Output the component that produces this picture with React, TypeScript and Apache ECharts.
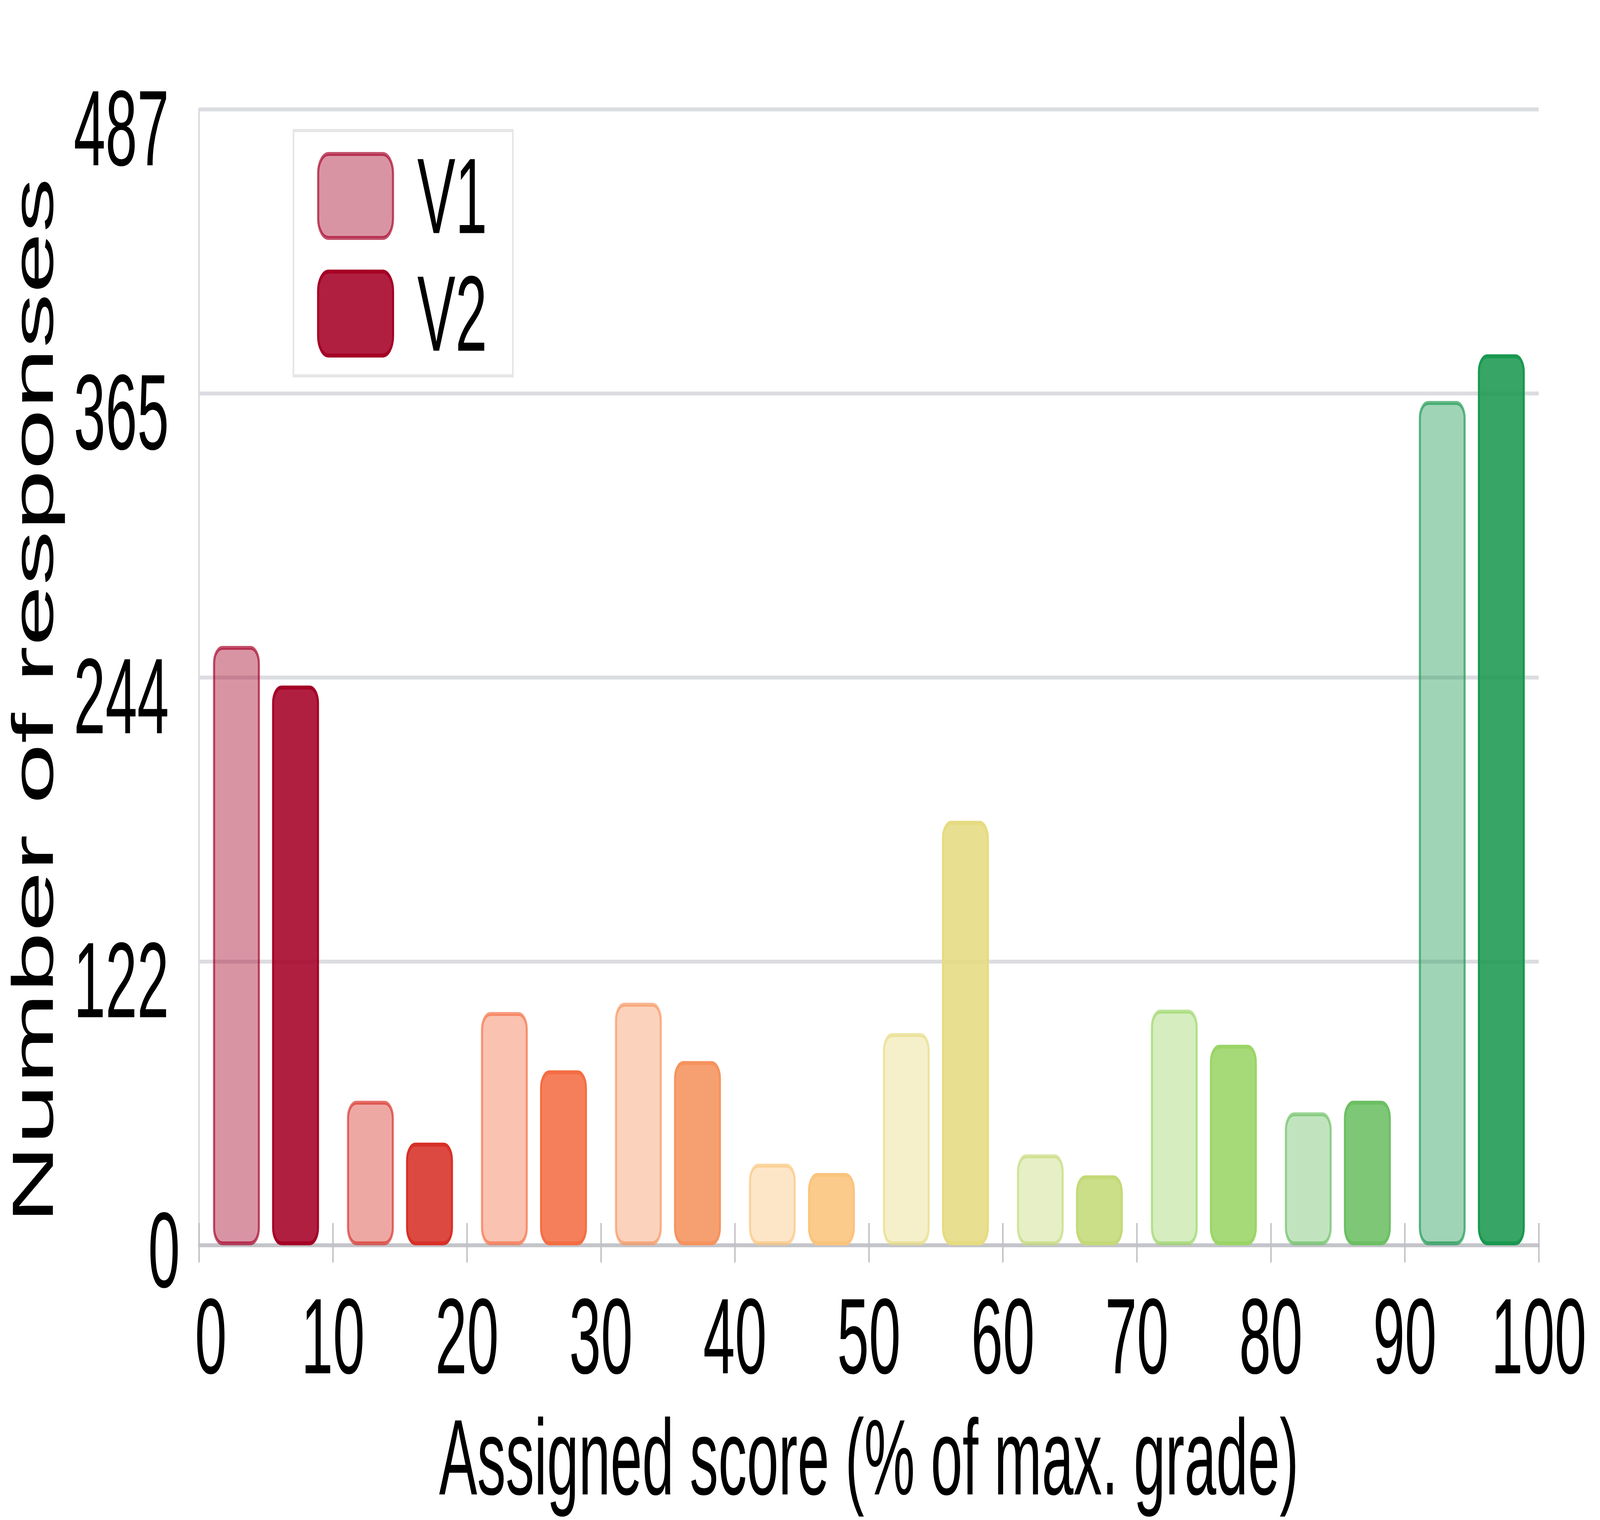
import React, { useEffect, useRef } from 'react'
import * as echarts from 'echarts'

// score bins (10 % wide) and the two response counts per bin
const bins = ['0-10', '10-20', '20-30', '30-40', '40-50', '50-60', '60-70', '70-80', '80-90', '90-100']
const v1Counts = [257, 62, 100, 104, 35, 91, 39, 101, 57, 362]
const v2Counts = [240, 44, 75, 79, 31, 182, 30, 86, 62, 382]
const binColors = ['#a50026', '#d73027', '#f46d43', '#f5935e', '#fac47c', '#e6db81', '#c4d978', '#9ad566', '#6cbf63', '#1a9850']
const seriesNames = ['V1', 'V2']
const yMax = 487

// design size of the figure
const W = 7710
const H = 3890
const FONT = '"Liberation Sans", Arial, sans-serif'
const FS = 275

const rgba = (hex: string, a: number) => {
  const n = parseInt(hex.slice(1), 16)
  return `rgba(${(n >> 16) & 255},${(n >> 8) & 255},${n & 255},${a})`
}

// fill / border alpha per version
const styleAlpha = [
  { fill: 0.42, border: 0.68 },
  { fill: 0.88, border: 1 }
]

const legendIcon =
  'path://M50,0 H311 A50,50 0 0 1 361,50 V165 A50,50 0 0 1 311,215 H50 A50,50 0 0 1 0,165 V50 A50,50 0 0 1 50,0 Z'

const App: React.FC = () => {
  const chartRef = useRef<HTMLDivElement>(null)
  // the window may be smaller than the design size: squeeze the whole figure into it
  const sx = Math.min(1, window.innerWidth / W)
  const sy = Math.min(1, window.innerHeight / H)

  useEffect(() => {
    if (!chartRef.current) return
    document.body.style.margin = '0'
    document.body.style.overflow = 'hidden'
    const chart = echarts.init(chartRef.current, undefined, { renderer: 'svg' })

    const makeSeries = (idx: number, counts: number[]) => {
      const a = styleAlpha[idx]
      return {
        name: seriesNames[idx],
        type: 'bar',
        xAxisIndex: 1,
        yAxisIndex: 0,
        barWidth: '35%',
        barGap: '26%',
        itemStyle: {
          color: rgba(binColors[0], a.fill),
          borderColor: rgba(binColors[0], a.border),
          borderWidth: 10,
          borderRadius: 40
        },
        data: counts.map((v, i) => ({
          value: v,
          itemStyle: {
            color: rgba(binColors[i], a.fill),
            borderColor: rgba(binColors[i], a.border)
          }
        }))
      }
    }

    const option = {
      animation: false,
      backgroundColor: '#fff',
      textStyle: { fontFamily: FONT },
      grid: { left: 959, right: 295, top: 280, bottom: 703, containLabel: false, outerBoundsMode: 'none' },
      legend: {
        orient: 'vertical',
        left: 1414,
        top: 334,
        icon: legendIcon,
        itemWidth: 361,
        itemHeight: 215,
        itemGap: 26,
        padding: [30, 124, 22, 114],
        borderColor: '#e5e6e8',
        borderWidth: 8,
        backgroundColor: '#fff',
        itemStyle: { borderWidth: 10 },
        textStyle: { fontSize: FS, color: '#000', fontFamily: FONT, padding: [0, 0, 0, 112] },
        data: seriesNames
      },
      xAxis: [
        {
          // value scale 0-100 carrying the labels and the downward ticks
          type: 'value',
          position: 'bottom',
          min: 0,
          max: 100,
          interval: 10,
          name: 'Assigned score (% of max. grade)',
          nameLocation: 'middle',
          nameGap: 405,
          nameTextStyle: { fontSize: FS, color: '#000', fontFamily: FONT },
          axisLine: { show: true, lineStyle: { color: '#c4c5ca', width: 10 } },
          axisTick: { show: true, length: 44, lineStyle: { color: '#c0c1c6', width: 7 } },
          axisLabel: {
            color: '#000',
            margin: 95,
            fontFamily: FONT,
            fontSize: FS,
            formatter: (v: number) => (v === 0 ? '{z|0}' : `{n|${v}}`),
            rich: {
              z: { fontSize: FS, fontFamily: FONT, color: '#000', padding: [0, 0, 0, 114] },
              n: { fontSize: FS, fontFamily: FONT, color: '#000' }
            }
          },
          splitLine: { show: false }
        },
        {
          // category bands for the bars; moved onto the bottom line for the upward tick halves
          type: 'category',
          data: bins,
          position: 'top',
          offset: -2907,
          boundaryGap: true,
          axisLine: { show: false },
          axisLabel: { show: false },
          axisTick: { show: true, length: 57, lineStyle: { color: '#c0c1c6', width: 7 } },
          splitLine: { show: false }
        }
      ],
      yAxis: {
        type: 'value',
        min: 0,
        max: yMax,
        interval: yMax / 4,
        name: 'Number of responses',
        nameLocation: 'middle',
        nameGap: 661,
        nameRotate: 90,
        nameTextStyle: { fontSize: 280, color: '#000', fontFamily: FONT, padding: [0, 120, 0, 0] },
        axisLine: { show: true, lineStyle: { color: '#dadbde', width: 8 } },
        axisTick: { show: false },
        axisLabel: {
          color: '#000',
          margin: 92,
          fontFamily: FONT,
          fontSize: FS,
          formatter: (v: number) => {
            const r = Math.round(v)
            return r === 0 ? '{z|0}' : `{n|${r}}`
          },
          rich: {
            z: { fontSize: FS, fontFamily: FONT, color: '#000', padding: [24, 0, 0, 0] },
            n: { fontSize: FS, fontFamily: FONT, color: '#000', padding: [96, 53, 0, 0] }
          }
        },
        splitLine: { show: true, lineStyle: { color: '#dcdde1', width: 10 } }
      },
      series: [makeSeries(0, v1Counts), makeSeries(1, v2Counts)]
    }

    chart.setOption(option as any)

    const handleResize = () => chart.resize()
    window.addEventListener('resize', handleResize)
    return () => {
      window.removeEventListener('resize', handleResize)
      chart.dispose()
    }
  }, [])

  return (
    <div style={{ width: '100vw', height: '100vh', overflow: 'hidden', background: '#fff' }}>
      <div
        ref={chartRef}
        style={{ width: W, height: H, transform: `scale(${sx}, ${sy})`, transformOrigin: '0 0' }}
      />
    </div>
  )
}

export default App
